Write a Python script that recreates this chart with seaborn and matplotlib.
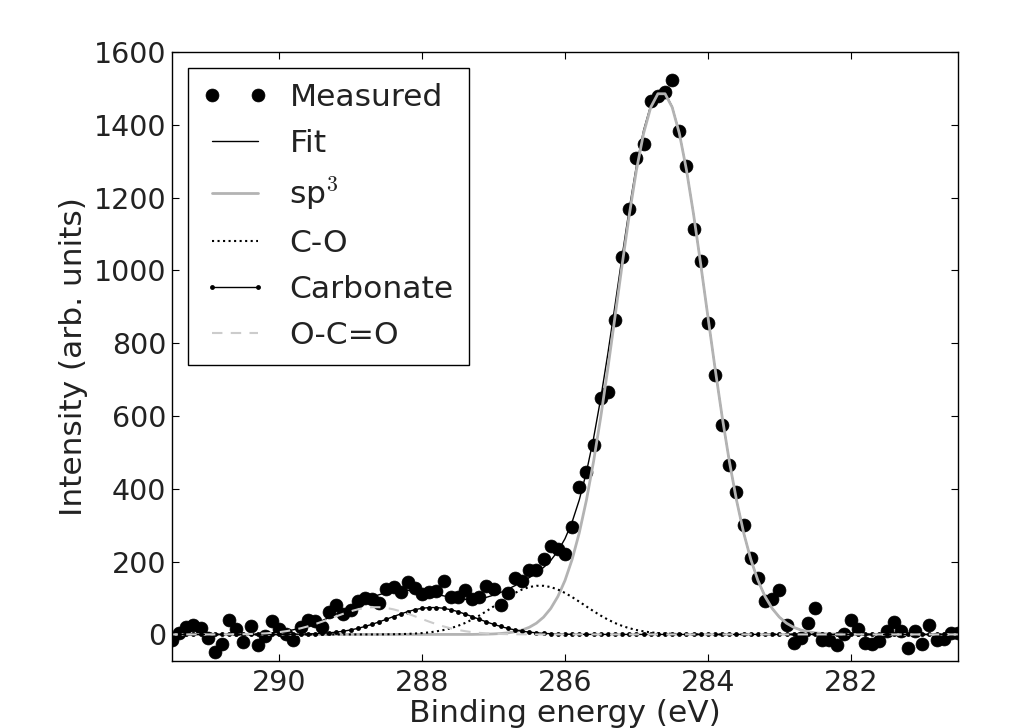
import numpy as np
import pandas as pd
import matplotlib
matplotlib.use("Agg")
import matplotlib.pyplot as plt
import seaborn as sns

# Binding energy grid (eV), high -> low
energy = [
    291.5, 291.4, 291.3, 291.2, 291.1, 291.0, 290.9, 290.8, 290.7, 290.6,
    290.5, 290.4, 290.3, 290.2, 290.1, 290.0, 289.9, 289.8, 289.7, 289.6,
    289.5, 289.4, 289.3, 289.2, 289.1, 289.0, 288.9, 288.8, 288.7, 288.6,
    288.5, 288.4, 288.3, 288.2, 288.1, 288.0, 287.9, 287.8, 287.7, 287.6,
    287.5, 287.4, 287.3, 287.2, 287.1, 287.0, 286.9, 286.8, 286.7, 286.6,
    286.5, 286.4, 286.3, 286.2, 286.1, 286.0, 285.9, 285.8, 285.7, 285.6,
    285.5, 285.4, 285.3, 285.2, 285.1, 285.0, 284.9, 284.8, 284.7, 284.6,
    284.5, 284.4, 284.3, 284.2, 284.1, 284.0, 283.9, 283.8, 283.7, 283.6,
    283.5, 283.4, 283.3, 283.2, 283.1, 283.0, 282.9, 282.8, 282.7, 282.6,
    282.5, 282.4, 282.3, 282.2, 282.1, 282.0, 281.9, 281.8, 281.7, 281.6,
    281.5, 281.4, 281.3, 281.2, 281.1, 281.0, 280.9, 280.8, 280.7, 280.6,
    280.5,
]

measured = [
    -14, 5, 21, 25, 18, -11, -49, -25, 41, 16,
    -21, 23, -30, -3, 37, 14, 0, -16, 21, 41,
    37, 21, 61, 82, 55, 67, 92, 101, 96, 85,
    124, 131, 116, 145, 128, 110, 116, 119, 147, 103,
    103, 122, 98, 104, 133, 124, 80, 115, 156, 148,
    176, 176, 206, 243, 234, 220, 295, 406, 445, 520,
    649, 665, 864, 1037, 1168, 1309, 1347, 1466, 1480, 1490,
    1524, 1383, 1287, 1113, 1025, 855, 712, 575, 465, 391,
    301, 210, 156, 93, 96, 121, 26, -23, -9, 32,
    73, -14, -14, -30, 0, 41, 14, -23, -27, -18,
    9, 35, 9, -37, 9, -26, 27, -14, -12, 5,
    5,
]

sp3 = [
    0, 0, 0, 0, 0, 0, 0, 0, 0, 0,
    0, 0, 0, 0, 0, 0, 0, 0, 0, 0,
    0, 0, 0, 0, 0, 0, 0, 0, 0, 0,
    0, 0, 0, 0, 0, 0, 0, 0, 0, 0,
    0, 0, 0, 0.4, 0.7, 1.4, 2.5, 4.3, 7.3, 12.1,
    19.6, 30.9, 47.5, 71.2, 104.1, 148.3, 206.2, 279.4, 369.1, 475.4,
    597.0, 731.1, 872.8, 1016.0, 1153.1, 1276.0, 1376.7, 1448.2, 1485.3, 1485.3,
    1448.2, 1376.7, 1276.0, 1153.1, 1016.0, 872.8, 731.1, 597.0, 475.4, 369.1,
    279.4, 206.2, 148.3, 104.1, 71.2, 47.5, 30.9, 19.6, 12.1, 7.3,
    4.3, 2.5, 1.4, 0.7, 0.4, 0, 0, 0, 0, 0,
    0, 0, 0, 0, 0, 0, 0, 0, 0, 0,
    0,
]

c_o = [
    0, 0, 0, 0, 0, 0, 0, 0, 0, 0,
    0, 0, 0, 0, 0, 0, 0, 0, 0, 0,
    0, 0, 0, 0, 0, 0, 0, 0, 0, 0,
    0.3, 0.5, 0.9, 1.5, 2.4, 3.7, 5.6, 8.4, 12.1, 17.1,
    23.4, 31.3, 40.8, 51.7, 63.8, 76.8, 89.9, 102.6, 114.0, 123.4,
    130.1, 133.6, 133.6, 130.1, 123.4, 114.0, 102.6, 89.9, 76.8, 63.8,
    51.7, 40.8, 31.3, 23.4, 17.1, 12.1, 8.4, 5.6, 3.7, 2.4,
    1.5, 0.9, 0.5, 0.3, 0, 0, 0, 0, 0, 0,
    0, 0, 0, 0, 0, 0, 0, 0, 0, 0,
    0, 0, 0, 0, 0, 0, 0, 0, 0, 0,
    0, 0, 0, 0, 0, 0, 0, 0, 0, 0,
    0,
]

carbonate = [
    0, 0, 0, 0, 0, 0, 0, 0, 0, 0,
    0, 0, 0, 0, 0, 0.1, 0.3, 0.4, 0.7, 1.2,
    1.9, 2.9, 4.3, 6.3, 8.9, 12.3, 16.6, 21.8, 27.8, 34.5,
    41.7, 49.1, 56.2, 62.7, 68.0, 71.8, 73.8, 73.8, 71.8, 68.0,
    62.7, 56.2, 49.1, 41.7, 34.5, 27.8, 21.8, 16.6, 12.3, 8.9,
    6.3, 4.3, 2.9, 1.9, 1.2, 0.7, 0.4, 0.3, 0.1, 0,
    0, 0, 0, 0, 0, 0, 0, 0, 0, 0,
    0, 0, 0, 0, 0, 0, 0, 0, 0, 0,
    0, 0, 0, 0, 0, 0, 0, 0, 0, 0,
    0, 0, 0, 0, 0, 0, 0, 0, 0, 0,
    0, 0, 0, 0, 0, 0, 0, 0, 0, 0,
    0,
]

o_c_o = [
    0, 0, 0, 0, 0, 0, 0, 0.15, 0.25, 0.4,
    0.7, 1.2, 1.9, 2.9, 4.3, 6.3, 9.0, 12.5, 16.8, 22.1,
    28.2, 35.0, 42.3, 49.8, 57.0, 63.5, 68.9, 72.7, 74.7, 74.7,
    72.7, 68.9, 63.5, 57.0, 49.8, 42.3, 35.0, 28.2, 22.1, 16.8,
    12.5, 9.0, 6.3, 4.3, 2.9, 1.9, 1.2, 0.7, 0.4, 0.25,
    0.15, 0, 0, 0, 0, 0, 0, 0, 0, 0,
    0, 0, 0, 0, 0, 0, 0, 0, 0, 0,
    0, 0, 0, 0, 0, 0, 0, 0, 0, 0,
    0, 0, 0, 0, 0, 0, 0, 0, 0, 0,
    0, 0, 0, 0, 0, 0, 0, 0, 0, 0,
    0, 0, 0, 0, 0, 0, 0, 0, 0, 0,
    0,
]

x_ticks = [290, 288, 286, 284, 282]
y_ticks = [0, 200, 400, 600, 800, 1000, 1200, 1400, 1600]

df = pd.DataFrame({
    "energy": energy,
    "measured": measured,
    "sp3": sp3,
    "c_o": c_o,
    "carbonate": carbonate,
    "o_c_o": o_c_o,
})
df["fit"] = df["sp3"] + df["c_o"] + df["carbonate"] + df["o_c_o"]

sns.set_theme(style="ticks")
FS_TICK = 20.5
FS_LABEL = 22.5
FS_LEG = 22.6
plt.rcParams.update({
    "font.family": ["DejaVu Sans"],
    "mathtext.fontset": "cm",
    "font.size": FS_TICK,
    "axes.edgecolor": "black",
    "axes.linewidth": 1.0,
    "xtick.direction": "in",
    "ytick.direction": "in",
    "xtick.top": True,
    "ytick.right": True,
    "xtick.major.size": 5,
    "ytick.major.size": 5,
    "xtick.major.width": 0.8,
    "ytick.major.width": 0.8,
    "xtick.color": "black",
    "ytick.color": "black",
    "xtick.labelcolor": "#222222",
    "ytick.labelcolor": "#222222",
})

fig = plt.figure(figsize=(10.14, 7.28), dpi=100)
ax = fig.add_axes([172 / 1014, 1 - 661 / 728, (958 - 172) / 1014, (661 - 52) / 728])

sns.lineplot(data=df, x="energy", y="measured", ax=ax, linestyle="none",
             marker="o", markersize=9.3, color="black", markeredgecolor="black",
             markeredgewidth=0.5, label="Measured")
sns.lineplot(data=df, x="energy", y="fit", ax=ax, color="black", linewidth=1.0,
             label="Fit")
sns.lineplot(data=df, x="energy", y="sp3", ax=ax, color="0.7", linewidth=2.0,
             label="sp$^3$")
sns.lineplot(data=df, x="energy", y="c_o", ax=ax, color="black", linewidth=1.5,
             linestyle=":", label="C-O")
sns.lineplot(data=df, x="energy", y="carbonate", ax=ax, color="black",
             linewidth=1.0, marker="o", markersize=3.5, markeredgecolor="black",
             markeredgewidth=0, label="Carbonate")
sns.lineplot(data=df, x="energy", y="o_c_o", ax=ax, color="0.8", linewidth=1.5,
             linestyle=(0, (5, 4)), label="O-C=O")

ax.set_xlim(291.5, 280.5)
ax.set_ylim(-73, 1600)
ax.set_xticks(x_ticks)
ax.set_yticks(y_ticks)
ax.tick_params(axis="both", labelsize=FS_TICK)
ax.tick_params(axis="x", pad=6)
ax.tick_params(axis="y", pad=4)
ax.set_xlabel("Binding energy (eV)", fontsize=FS_LABEL, color="#222222", labelpad=1)
ax.set_ylabel("Intensity (arb. units)", fontsize=FS_LABEL, color="#222222", labelpad=4)

leg = ax.legend(loc="upper left", numpoints=2, handlelength=2.06,
                handletextpad=0.7, labelspacing=0.54, borderpad=0.48,
                borderaxespad=0.5, fancybox=False, framealpha=1.0,
                edgecolor="black", fontsize=FS_LEG)
leg.get_frame().set_linewidth(1.0)
for t in leg.get_texts():
    t.set_color("#222222")

fig.savefig("out.png", dpi=100)
